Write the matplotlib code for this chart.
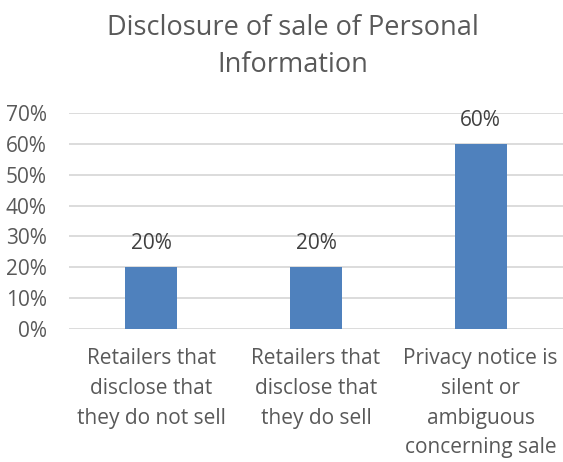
import numpy as np
import matplotlib.pyplot as plt

# chart data
categories = ["Retailers that\ndisclose that\nthey do not sell",
              "Retailers that\ndisclose that\nthey do sell",
              "Privacy notice is\nsilent or\nambiguous\nconcerning sale"]
values = [20, 20, 60]
y_ticks = [0, 10, 20, 30, 40, 50, 60, 70]

plt.rcParams['font.family'] = ['Open Sans', 'DejaVu Sans']
txt = '#595959'

fig = plt.figure(figsize=(5.63, 4.62), dpi=100)
ax = fig.add_axes([0.1226, 0.2879, 0.8774, 0.4675])

x = np.arange(len(categories))
bars = ax.bar(x, values, width=0.315, color='#4F81BD', zorder=3)
for b, v in zip(bars, values):
    ax.text(b.get_x() + b.get_width() / 2, v + 4.2, f"{v}%", ha='center',
            va='bottom', fontsize=15, color='#404040')

ax.set_xlim(-0.5, 2.5)
ax.set_ylim(0, 70)
ax.set_yticks(y_ticks)
ax.set_yticklabels([f"{t}%" for t in y_ticks])
ax.set_xticks(x)
ax.set_xticklabels(categories, linespacing=1.54)
ax.tick_params(axis='both', length=0, labelsize=15, labelcolor=txt)
ax.tick_params(axis='y', pad=16)
ax.tick_params(axis='x', pad=14)
ax.grid(axis='y', color='#D9D9D9', linewidth=1.3, zorder=0)
for s in ax.spines.values():
    s.set_visible(False)

fig.text(0.52, 0.97, "Disclosure of sale of Personal\nInformation", ha='center',
         va='top', fontsize=19.5, color=txt, linespacing=1.42)

fig.savefig('out.png', dpi=100)
